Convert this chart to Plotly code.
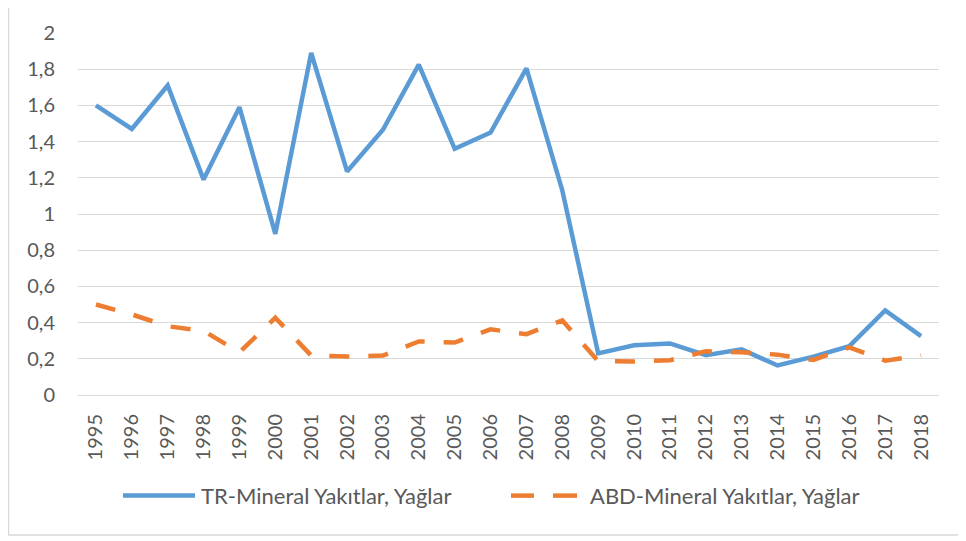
import plotly.graph_objects as go

years = [str(y) for y in range(1995, 2019)]
tr_values = [1.60, 1.47, 1.71, 1.19, 1.59, 0.89, 1.89, 1.235, 1.465, 1.825, 1.36, 1.45,
             1.805, 1.13, 0.23, 0.275, 0.285, 0.22, 0.252, 0.163, 0.212, 0.27, 0.467, 0.325]
abd_values = [0.50, 0.445, 0.38, 0.354, 0.236, 0.427, 0.218, 0.213, 0.218, 0.296, 0.29, 0.363,
              0.336, 0.412, 0.187, 0.185, 0.192, 0.241, 0.236, 0.223, 0.194, 0.263, 0.19, 0.218]
tr_name = "TR-Mineral Yakıtlar, Yağlar"
abd_name = "ABD-Mineral Yakıtlar, Yağlar"
y_ticks = [0, 0.2, 0.4, 0.6, 0.8, 1.0, 1.2, 1.4, 1.6, 1.8, 2.0]
y_tick_labels = ["0", "0,2", "0,4", "0,6", "0,8", "1", "1,2", "1,4", "1,6", "1,8", "2"]

BLUE = "#5B9BD5"
ORANGE = "#ED7D31"
GRID = "#D9D9D9"
TEXT = "#595959"
FONT = "Lato"

OFF = 8  # page body margin
W, H = 958, 533
L, R, T, B = 70, 27, 20, 146
pw, ph = W - L - R, H - T - B


def px(x):
    return (x - OFF - L) / pw


def py(y):
    return (OFF + H - B - y) / ph


fig = go.Figure()
fig.add_trace(go.Scatter(x=years, y=tr_values, mode="lines", name=tr_name,
                         line=dict(color=BLUE, width=4.5), showlegend=False))
fig.add_trace(go.Scatter(x=years, y=abd_values, mode="lines", name=abd_name,
                         line=dict(color=ORANGE, width=4.5, dash="20px,19px"), showlegend=False))

LEG_Y = 497
shapes = [
    dict(type="line", xref="paper", yref="paper", x0=px(8.5), x1=px(8.5), y0=py(537), y1=py(0),
         line=dict(color=GRID, width=1.5)),
    dict(type="line", xref="paper", yref="paper", x0=px(8), x1=px(966), y0=py(537), y1=py(537),
         line=dict(color=GRID, width=1.5)),
    dict(type="line", xref="paper", yref="paper", x0=px(123), x1=px(195), y0=py(LEG_Y), y1=py(LEG_Y),
         line=dict(color=BLUE, width=4.5)),
    dict(type="line", xref="paper", yref="paper", x0=px(511), x1=px(534), y0=py(LEG_Y), y1=py(LEG_Y),
         line=dict(color=ORANGE, width=4.5)),
    dict(type="line", xref="paper", yref="paper", x0=px(553), x1=px(577), y0=py(LEG_Y), y1=py(LEG_Y),
         line=dict(color=ORANGE, width=4.5)),
]

annotations = [
    dict(xref="paper", yref="paper", x=px(199), y=py(LEG_Y), text=tr_name, showarrow=False,
         xanchor="left", yanchor="middle", font=dict(family=FONT, size=22, color=TEXT)),
    dict(xref="paper", yref="paper", x=px(588), y=py(LEG_Y), text=abd_name, showarrow=False,
         xanchor="left", yanchor="middle", font=dict(family=FONT, size=22, color=TEXT)),
]

fig.update_layout(
    width=W, height=H,
    margin=dict(l=L, r=R, t=T, b=B),
    paper_bgcolor="white", plot_bgcolor="white",
    font=dict(family=FONT, color=TEXT),
    shapes=shapes, annotations=annotations,
    showlegend=False,
)
fig.update_xaxes(type="category", range=[-0.5, 23.5], tickangle=-90, showgrid=False,
                 showline=False, ticks="", tickfont=dict(family=FONT, size=20, color=TEXT),
                 ticklabelstandoff=14)
fig.update_yaxes(range=[0, 2.0], tickvals=y_ticks, ticktext=y_tick_labels, showgrid=True,
                 gridcolor=GRID, gridwidth=1.3, zeroline=True, zerolinecolor=GRID,
                 zerolinewidth=1.3, showline=False, ticks="",
                 tickfont=dict(family=FONT, size=20, color=TEXT), ticklabelstandoff=22)

fig.write_html("out.html")
